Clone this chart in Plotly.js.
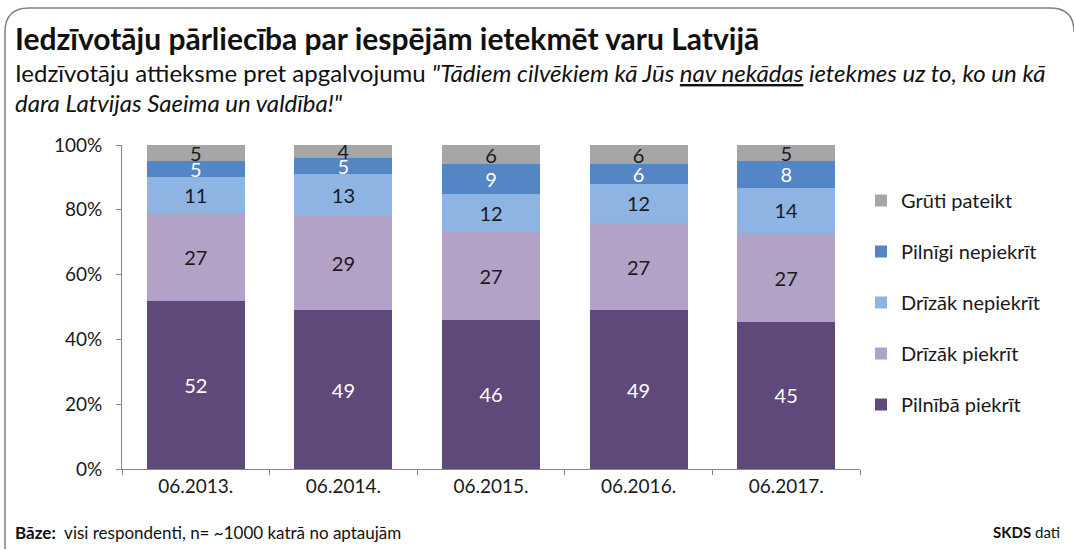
<!DOCTYPE html>
<html>
<head>
<meta charset="utf-8">
<script src="https://cdn.plot.ly/plotly-3.0.1.min.js"></script>
<style>
html,body{margin:0;padding:0;background:#fff;}
#chart{width:1074px;height:550px;}
</style>
</head>
<body>
<div id="chart"></div>
<script>
// ---- data ----
const categories = ["06.2013.", "06.2014.", "06.2015.", "06.2016.", "06.2017."];
const seriesNames = ["Pilnībā piekrīt", "Drīzāk piekrīt", "Drīzāk nepiekrīt", "Pilnīgi nepiekrīt", "Grūti pateikt"];
const pilnibaPiekrit   = [52, 49, 46, 49, 45];
const drizakPiekrit    = [27, 29, 27, 27, 27];
const drizakNepiekrit  = [11, 13, 12, 12, 14];
const pilnigiNepiekrit = [5, 5, 9, 6, 8];
const grutiPateikt     = [5, 4, 6, 6, 5];
const yTickVals = [0, 20, 40, 60, 80, 100];
const yTickText = ["0%", "20%", "40%", "60%", "80%", "100%"];

const seriesValues = [pilnibaPiekrit, drizakPiekrit, drizakNepiekrit, pilnigiNepiekrit, grutiPateikt];
const colors = ["#5F497A", "#B3A2C7", "#8EB4E3", "#5486C6", "#A6A6A6"];
const textColors = ["#ffffff", "#1a1a1a", "#1a1a1a", "#ffffff", "#1a1a1a"];

const FONT = "Lato, 'Open Sans', sans-serif";

const traces = seriesValues.map((vals, i) => ({
  type: "bar",
  name: seriesNames[i],
  x: categories,
  y: vals,
  text: vals.map(String),
  textposition: "inside",
  insidetextanchor: "middle",
  textangle: 0,
  textfont: {family: FONT, size: 20, color: textColors[i]},
  marker: {color: colors[i], line: {width: 0}},
  legendgroup: "g" + i,
  legendrank: 100 - i,
  hoverinfo: "skip"
}));

// pixel geometry of plot area
const L = 122, R = 860, T = 145, B = 469;
const W = 1074, H = 550;
const px = X => (X - L) / (R - L);
const py = Y => (B - Y) / (B - T);
const P = (X, Y) => px(X) + "," + py(Y);

const frame = "M" + P(5, 549) + " L" + P(5, 32) + " Q" + P(5, 8) + " " + P(29, 8) +
  " L" + P(1050, 8) + " Q" + P(1074, 8) + " " + P(1074, 32);

const layout = {
  width: W, height: H,
  margin: {l: L, r: W - R, t: T, b: H - B, pad: 0},
  paper_bgcolor: "#ffffff",
  plot_bgcolor: "#ffffff",
  barmode: "stack",
  barnorm: "percent",
  bargap: 0.335,
  uniformtext: {mode: "show", minsize: 20},
  font: {family: FONT, color: "#1a1a1a"},
  showlegend: true,
  legend: {
    x: px(861), y: py(181), xanchor: "left", yanchor: "top",
    traceorder: "grouped",
    tracegroupgap: 22,
    font: {family: FONT, size: 20, color: "#1a1a1a"},
    itemwidth: 30
  },
  xaxis: {
    type: "category",
    showgrid: false,
    showline: true, linecolor: "#868686", linewidth: 1,
    ticks: "outside", tickson: "boundaries", ticklen: 5, tickcolor: "#868686",
    tickfont: {family: FONT, size: 19, color: "#1a1a1a"},
    fixedrange: true
  },
  yaxis: {
    range: [0, 100],
    tickvals: yTickVals, ticktext: yTickText,
    showgrid: false, zeroline: false,
    showline: true, linecolor: "#868686", linewidth: 1,
    ticks: "outside", ticklen: 5, tickcolor: "#868686",
    tickfont: {family: FONT, size: 19, color: "#1a1a1a"},
    ticklabelstandoff: 10,
    fixedrange: true
  },
  shapes: [
    {type: "path", xref: "paper", yref: "paper", path: frame, line: {color: "#7f7f7f", width: 1.5}, layer: "above"}
  ],
  annotations: [
    {xref: "paper", yref: "paper", x: px(13), y: py(38), xanchor: "left", yanchor: "middle", showarrow: false,
     text: "<b>Iedzīvotāju pārliecība par iespējām ietekmēt varu Latvijā</b>",
     font: {family: FONT, size: 30, color: "#111111"}},
    {xref: "paper", yref: "paper", x: px(13), y: py(73), xanchor: "left", yanchor: "middle", showarrow: false,
     text: "Iedzīvotāju attieksme pret apgalvojumu <i>\"Tādiem cilvēkiem kā Jūs <span style=\"text-decoration:underline\">nav nekādas</span> ietekmes uz to, ko un kā</i>",
     font: {family: FONT, size: 24, color: "#111111"}},
    {xref: "paper", yref: "paper", x: px(13), y: py(102), xanchor: "left", yanchor: "middle", showarrow: false,
     text: "<i>dara Latvijas Saeima un valdība!\"</i>",
     font: {family: FONT, size: 24, color: "#111111"}},
    {xref: "paper", yref: "paper", x: px(13), y: py(532), xanchor: "left", yanchor: "middle", showarrow: false,
     text: "<b>Bāze:</b>  visi respondenti, n= ~1000 katrā no aptaujām",
     font: {family: FONT, size: 17, color: "#111111"}},
    {xref: "paper", yref: "paper", x: px(1062), y: py(532), xanchor: "right", yanchor: "middle", showarrow: false,
     text: "<b>SKDS</b> dati",
     font: {family: FONT, size: 15, color: "#111111"}}
  ]
};

Plotly.newPlot("chart", traces, layout, {displayModeBar: false, staticPlot: true});
</script>
</body>
</html>
